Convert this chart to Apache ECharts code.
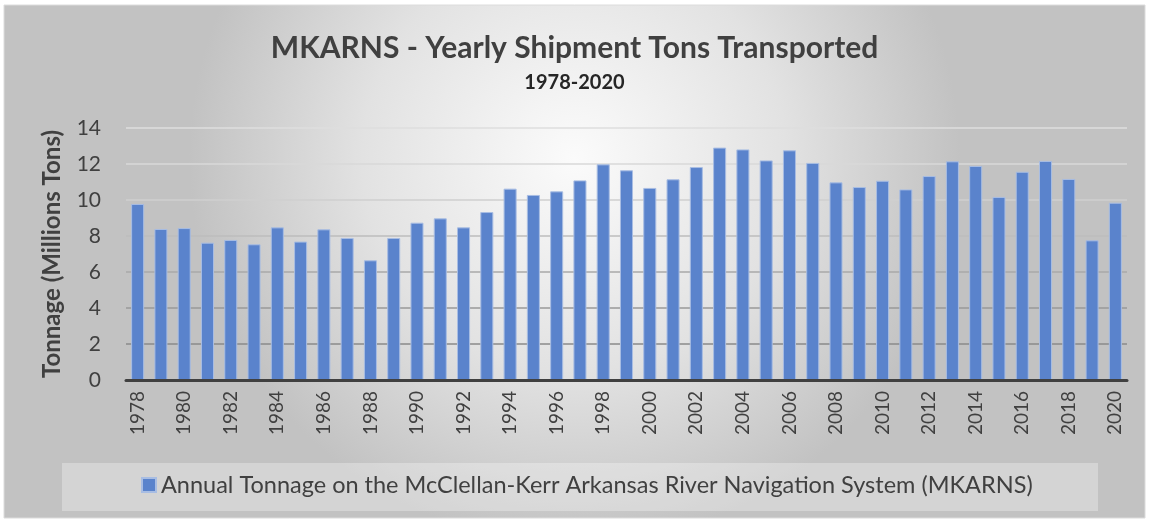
<!DOCTYPE html>
<html>
<head>
<meta charset="utf-8">
<script src="https://cdn.jsdelivr.net/npm/echarts@6/dist/echarts.min.js"></script>
<style>
html,body{margin:0;padding:0;background:#fff;}
#chart{width:1149px;height:522px;}
</style>
</head>
<body>
<div id="chart"></div>
<script>
var years = ['1978','1979','1980','1981','1982','1983','1984','1985','1986','1987','1988','1989','1990','1991','1992','1993','1994','1995','1996','1997','1998','1999','2000','2001','2002','2003','2004','2005','2006','2007','2008','2009','2010','2011','2012','2013','2014','2015','2016','2017','2018','2019','2020'];
var tonnage = [9.78,8.39,8.44,7.63,7.78,7.54,8.48,7.69,8.37,7.89,6.65,7.89,8.74,8.98,8.48,9.33,10.63,10.28,10.48,11.09,11.98,11.65,10.67,11.15,11.83,12.91,12.81,12.2,12.76,12.06,10.98,10.72,11.07,10.59,11.33,12.15,11.89,10.17,11.57,12.17,11.17,7.76,9.85];
var seriesName = 'Annual Tonnage on the McClellan-Kerr Arkansas River Navigation System (MKARNS)';
var titleText = 'MKARNS - Yearly Shipment Tons Transported';
var subtitleText = '1978-2020';
var yAxisName = 'Tonnage (Millions Tons)';

var FONT = 'Lato, "Open Sans", sans-serif';
var chart = echarts.init(document.getElementById('chart'), null, {renderer:'canvas'});
chart.setOption({
  backgroundColor: '#ffffff',
  animation: false,
  textStyle: {fontFamily: FONT},
  graphic: [
    {type:'rect', z:-100, shape:{x:4,y:5,width:1141,height:513},
     style:{fill:{type:'radial', x:0.5, y:0.3, r:0.75,
       colorStops:[{offset:0,color:'#fbfbfb'},{offset:0.55,color:'#e2e2e2'},{offset:1,color:'#c2c2c2'}]},
       stroke:'#dcdcdc', lineWidth:1}},
    {type:'rect', z:-90, shape:{x:62,y:463,width:1036,height:48},
     style:{fill:'rgba(255,255,255,0.3)'}}
  ],
  title: {
    text: titleText, subtext: subtitleText, left: 'center', top: 28, itemGap: 10,
    textStyle: {fontFamily: FONT, fontSize: 30, fontWeight: 'bold', color: '#404040'},
    subtextStyle: {fontFamily: FONT, fontSize: 20, fontWeight: 'bold', color: '#262626'}
  },
  legend: {
    bottom: 20, left: 136, icon: 'rect', itemWidth: 14, itemHeight: 14, itemGap: 6,
    textStyle: {fontFamily: FONT, fontSize: 23.5, color: '#404040'},
    data: [seriesName]
  },
  grid: {left: 126, right: 22, top: 128, bottom: 142, containLabel: false},
  xAxis: {
    type: 'category', data: years,
    axisTick: {show: false},
    axisLine: {lineStyle: {color: '#404040', width: 3}},
    axisLabel: {interval: 1, rotate: 90, fontSize: 19, color: '#404040', margin: 11, fontFamily: FONT},
    z: 3
  },
  yAxis: {
    type: 'value', min: 0, max: 14, interval: 2,
    name: yAxisName, nameLocation: 'middle', nameRotate: 90, nameGap: 62,
    nameTextStyle: {fontFamily: FONT, fontSize: 24, fontWeight: 'bold', color: '#404040'},
    axisLine: {show: false}, axisTick: {show: false},
    axisLabel: {fontSize: 21, color: '#404040', margin: 25, fontFamily: FONT},
    splitLine: {lineStyle: {width: 1.5, color: ['#404040','#8a8a8a','#999999','#a8a8a8','#bdbdbd','#cfcfcf','#d9d9d9','#dedede']}}
  },
  series: [{
    name: seriesName, type: 'bar', data: tonnage, barCategoryGap: '44%',
    itemStyle: {color: '#5a83cc', borderColor: '#a8bde3', borderWidth: 1}
  }]
});
</script>
</body>
</html>
